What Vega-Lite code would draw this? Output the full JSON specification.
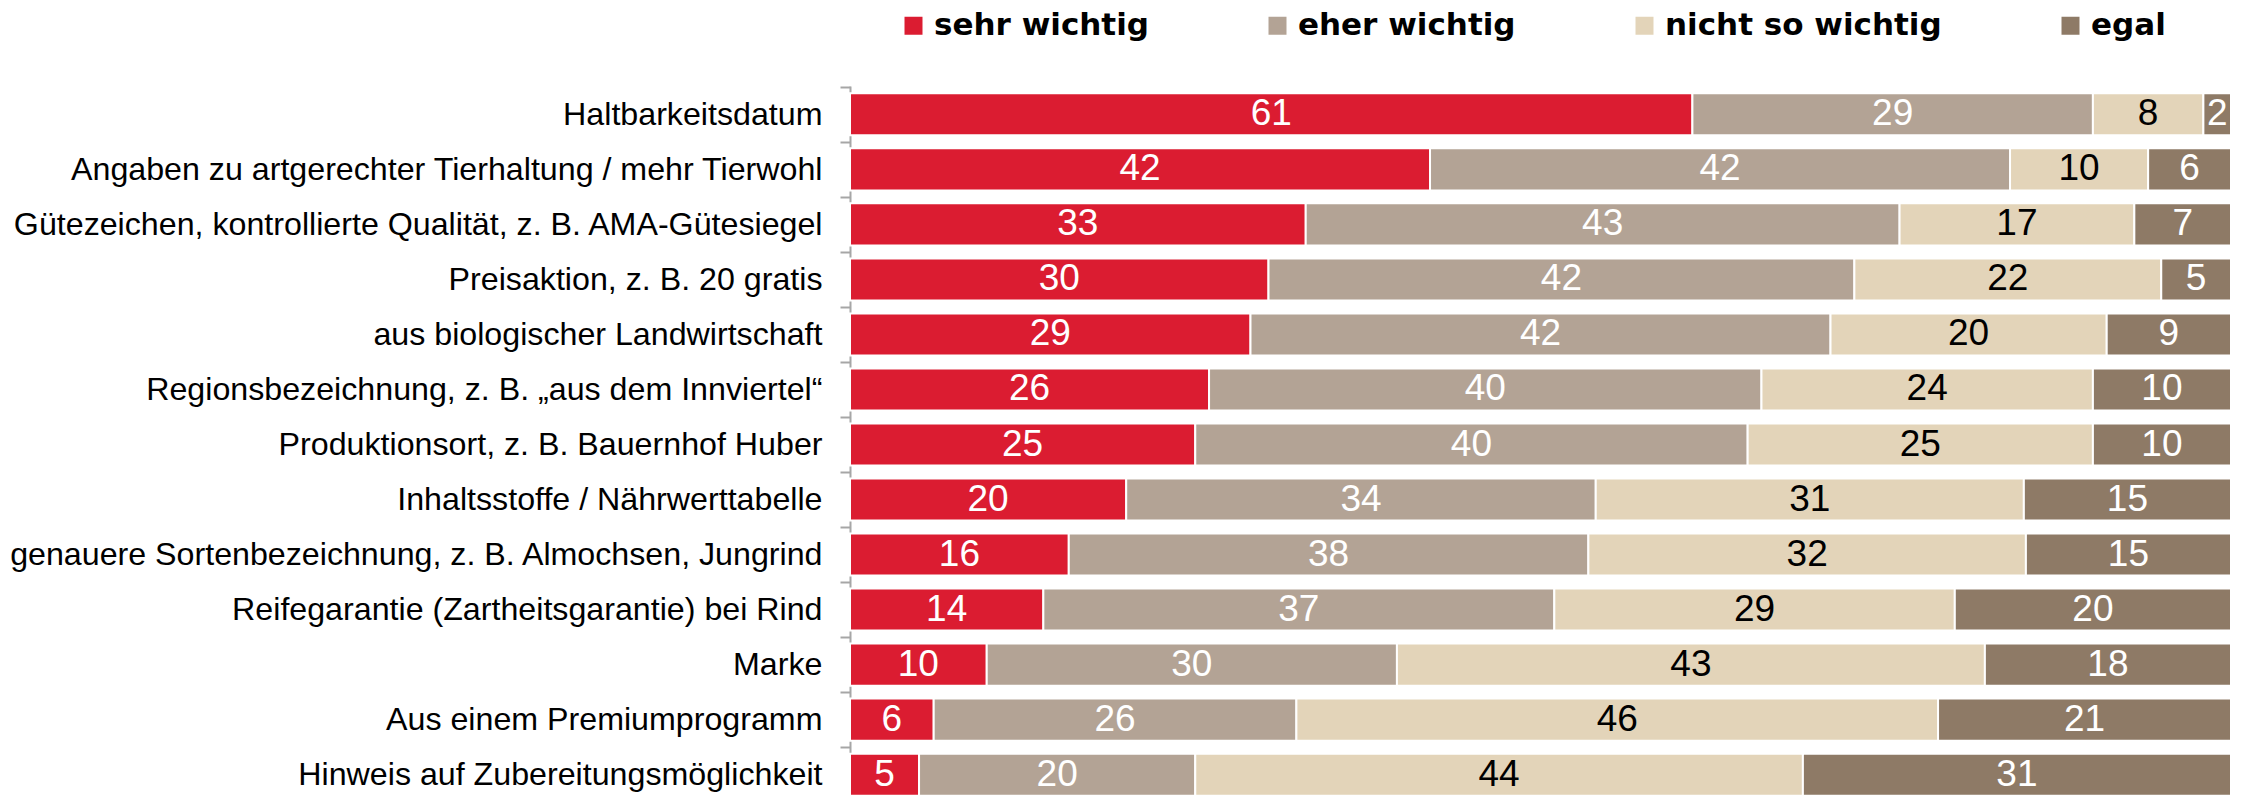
{
  "$schema": "https://vega.github.io/schema/vega-lite/v6.json",
  "width": 1381,
  "height": 717,
  "autosize": "none",
  "padding": {"left": 850, "top": 86, "right": 10, "bottom": 0},
  "background": "white",
  "data": {"values": [
    {"item": "Haltbarkeitsdatum", "cat": "sehr wichtig", "k": 1, "v": 61},
    {"item": "Haltbarkeitsdatum", "cat": "eher wichtig", "k": 2, "v": 29},
    {"item": "Haltbarkeitsdatum", "cat": "nicht so wichtig", "k": 3, "v": 8},
    {"item": "Haltbarkeitsdatum", "cat": "egal", "k": 4, "v": 2},
    {"item": "Angaben zu artgerechter Tierhaltung / mehr Tierwohl", "cat": "sehr wichtig", "k": 1, "v": 42},
    {"item": "Angaben zu artgerechter Tierhaltung / mehr Tierwohl", "cat": "eher wichtig", "k": 2, "v": 42},
    {"item": "Angaben zu artgerechter Tierhaltung / mehr Tierwohl", "cat": "nicht so wichtig", "k": 3, "v": 10},
    {"item": "Angaben zu artgerechter Tierhaltung / mehr Tierwohl", "cat": "egal", "k": 4, "v": 6},
    {"item": "Gütezeichen, kontrollierte Qualität, z. B. AMA-Gütesiegel", "cat": "sehr wichtig", "k": 1, "v": 33},
    {"item": "Gütezeichen, kontrollierte Qualität, z. B. AMA-Gütesiegel", "cat": "eher wichtig", "k": 2, "v": 43},
    {"item": "Gütezeichen, kontrollierte Qualität, z. B. AMA-Gütesiegel", "cat": "nicht so wichtig", "k": 3, "v": 17},
    {"item": "Gütezeichen, kontrollierte Qualität, z. B. AMA-Gütesiegel", "cat": "egal", "k": 4, "v": 7},
    {"item": "Preisaktion, z. B. 20 gratis", "cat": "sehr wichtig", "k": 1, "v": 30},
    {"item": "Preisaktion, z. B. 20 gratis", "cat": "eher wichtig", "k": 2, "v": 42},
    {"item": "Preisaktion, z. B. 20 gratis", "cat": "nicht so wichtig", "k": 3, "v": 22},
    {"item": "Preisaktion, z. B. 20 gratis", "cat": "egal", "k": 4, "v": 5},
    {"item": "aus biologischer Landwirtschaft", "cat": "sehr wichtig", "k": 1, "v": 29},
    {"item": "aus biologischer Landwirtschaft", "cat": "eher wichtig", "k": 2, "v": 42},
    {"item": "aus biologischer Landwirtschaft", "cat": "nicht so wichtig", "k": 3, "v": 20},
    {"item": "aus biologischer Landwirtschaft", "cat": "egal", "k": 4, "v": 9},
    {"item": "Regionsbezeichnung, z. B. „aus dem Innviertel“", "cat": "sehr wichtig", "k": 1, "v": 26},
    {"item": "Regionsbezeichnung, z. B. „aus dem Innviertel“", "cat": "eher wichtig", "k": 2, "v": 40},
    {"item": "Regionsbezeichnung, z. B. „aus dem Innviertel“", "cat": "nicht so wichtig", "k": 3, "v": 24},
    {"item": "Regionsbezeichnung, z. B. „aus dem Innviertel“", "cat": "egal", "k": 4, "v": 10},
    {"item": "Produktionsort, z. B. Bauernhof Huber", "cat": "sehr wichtig", "k": 1, "v": 25},
    {"item": "Produktionsort, z. B. Bauernhof Huber", "cat": "eher wichtig", "k": 2, "v": 40},
    {"item": "Produktionsort, z. B. Bauernhof Huber", "cat": "nicht so wichtig", "k": 3, "v": 25},
    {"item": "Produktionsort, z. B. Bauernhof Huber", "cat": "egal", "k": 4, "v": 10},
    {"item": "Inhaltsstoffe / Nährwerttabelle", "cat": "sehr wichtig", "k": 1, "v": 20},
    {"item": "Inhaltsstoffe / Nährwerttabelle", "cat": "eher wichtig", "k": 2, "v": 34},
    {"item": "Inhaltsstoffe / Nährwerttabelle", "cat": "nicht so wichtig", "k": 3, "v": 31},
    {"item": "Inhaltsstoffe / Nährwerttabelle", "cat": "egal", "k": 4, "v": 15},
    {"item": "genauere Sortenbezeichnung, z. B. Almochsen, Jungrind", "cat": "sehr wichtig", "k": 1, "v": 16},
    {"item": "genauere Sortenbezeichnung, z. B. Almochsen, Jungrind", "cat": "eher wichtig", "k": 2, "v": 38},
    {"item": "genauere Sortenbezeichnung, z. B. Almochsen, Jungrind", "cat": "nicht so wichtig", "k": 3, "v": 32},
    {"item": "genauere Sortenbezeichnung, z. B. Almochsen, Jungrind", "cat": "egal", "k": 4, "v": 15},
    {"item": "Reifegarantie (Zartheitsgarantie) bei Rind", "cat": "sehr wichtig", "k": 1, "v": 14},
    {"item": "Reifegarantie (Zartheitsgarantie) bei Rind", "cat": "eher wichtig", "k": 2, "v": 37},
    {"item": "Reifegarantie (Zartheitsgarantie) bei Rind", "cat": "nicht so wichtig", "k": 3, "v": 29},
    {"item": "Reifegarantie (Zartheitsgarantie) bei Rind", "cat": "egal", "k": 4, "v": 20},
    {"item": "Marke", "cat": "sehr wichtig", "k": 1, "v": 10},
    {"item": "Marke", "cat": "eher wichtig", "k": 2, "v": 30},
    {"item": "Marke", "cat": "nicht so wichtig", "k": 3, "v": 43},
    {"item": "Marke", "cat": "egal", "k": 4, "v": 18},
    {"item": "Aus einem Premiumprogramm", "cat": "sehr wichtig", "k": 1, "v": 6},
    {"item": "Aus einem Premiumprogramm", "cat": "eher wichtig", "k": 2, "v": 26},
    {"item": "Aus einem Premiumprogramm", "cat": "nicht so wichtig", "k": 3, "v": 46},
    {"item": "Aus einem Premiumprogramm", "cat": "egal", "k": 4, "v": 21},
    {"item": "Hinweis auf Zubereitungsmöglichkeit", "cat": "sehr wichtig", "k": 1, "v": 5},
    {"item": "Hinweis auf Zubereitungsmöglichkeit", "cat": "eher wichtig", "k": 2, "v": 20},
    {"item": "Hinweis auf Zubereitungsmöglichkeit", "cat": "nicht so wichtig", "k": 3, "v": 44},
    {"item": "Hinweis auf Zubereitungsmöglichkeit", "cat": "egal", "k": 4, "v": 31}
  ]},
  "encoding": {
    "y": {
      "field": "item", "type": "nominal", "sort": null, "title": null,
      "scale": {"paddingInner": 0.236, "paddingOuter": 0.133},
      "axis": {
        "domainColor": "#A6A6A6", "domainWidth": 2,
        "tickColor": "#A6A6A6", "tickWidth": 2, "tickSize": 10,
        "bandPosition": 0, "tickOffset": -6.5, "labelOffset": 6.5,
        "labelFont": "Liberation Sans", "labelFontSize": 32.2, "labelColor": "black",
        "labelPadding": 18, "labelLimit": 900, "grid": false, "title": null
      }
    }
  },
  "layer": [
    {
      "mark": {"type": "bar", "stroke": "white", "strokeWidth": 2},
      "encoding": {
        "x": {"field": "v", "type": "quantitative", "stack": "normalize", "axis": null, "scale": {"nice": false}},
        "order": {"field": "k", "type": "quantitative"},
        "color": {
          "field": "cat", "type": "nominal",
          "scale": {"domain": ["sehr wichtig", "eher wichtig", "nicht so wichtig", "egal"],
                    "range": ["#DB1C31", "#B3A395", "#E3D4B9", "#8E7A66"]},
          "legend": {
            "orient": "none", "legendX": 48, "legendY": -76,
            "direction": "horizontal", "columns": 4, "columnPadding": 113,
            "symbolType": "square", "symbolSize": 324, "symbolStrokeWidth": 0,
            "labelFont": "DejaVu Sans", "labelFontWeight": "bold", "labelFontSize": 31,
            "labelColor": "black", "labelOffset": 5, "labelLimit": 500,
            "title": null, "padding": 0
          }
        }
      }
    },
    {
      "mark": {"type": "text", "font": "Liberation Sans", "fontSize": 37, "align": "center", "baseline": "middle"},
      "encoding": {
        "x": {"field": "v", "type": "quantitative", "stack": "normalize", "bandPosition": 0.5},
        "order": {"field": "k", "type": "quantitative"},
        "text": {"field": "v", "type": "quantitative"},
        "color": {"condition": {"test": "datum.cat === 'nicht so wichtig'", "value": "black"}, "value": "white"}
      }
    }
  ],
  "config": {"view": {"stroke": null}}
}
